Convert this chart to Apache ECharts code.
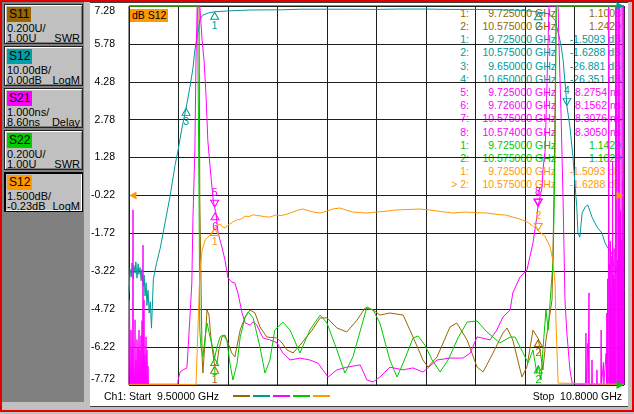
<!DOCTYPE html>
<html><head><meta charset="utf-8">
<script src="https://cdn.jsdelivr.net/npm/echarts@6/dist/echarts.min.js"></script>
<style>
html,body{margin:0;padding:0;}
body{width:634px;height:414px;position:relative;overflow:hidden;background:#c0c0c0;font-family:"Liberation Sans",Arial,sans-serif;font-size:11px;color:#000;}
.a{position:absolute;}
#frame{left:0;top:0;width:630px;height:408px;border:2px solid #e00000;z-index:5;pointer-events:none;}
#panel{left:2px;top:2px;width:82px;height:400px;background:#808080;}
#white{left:90px;top:2px;width:538px;height:403px;background:#fff;border-top:1px solid #404040;border-bottom:1px solid #404040;}
.box{position:absolute;left:4px;width:77px;height:38px;background:#c0c0c0;border:1px solid #202020;box-shadow:inset 1px 1px 0 #fff,inset -1px -1px 0 #808080;}
.box.sel{border:1px solid #000;box-shadow:inset 1px 1px 0 #000,inset -1px -1px 0 #fff;}
.chip{position:absolute;left:2px;top:2px;padding:0 2px;height:15px;line-height:15px;font-size:12px;color:#000;}
.l2{position:absolute;left:2px;top:17px;line-height:12px;font-size:11px;}
.l3{position:absolute;left:2px;top:27px;line-height:12px;font-size:11px;}
.r3{position:absolute;right:2px;top:27px;line-height:12px;font-size:11px;}
#chart{left:0;top:0;width:634px;height:414px;z-index:2;}
#table{left:0;top:0;width:634px;height:414px;z-index:1;font-size:10.5px;}
.row span{position:absolute;white-space:pre;line-height:13px;}
.bt{font-size:10.5px;line-height:13px;z-index:3;}
.dash{height:2px;width:17px;top:395px;z-index:3;}
#lbl{left:130px;top:9px;height:13px;line-height:13px;padding:0 2px;background:#ff9900;font-size:10.5px;z-index:3;}
</style></head>
<body>
<div id="panel" class="a"></div>
<div id="white" class="a"></div>
<div id="boxes"></div>
<div id="table" class="a"></div>
<div id="chart" class="a"></div>
<div id="lbl" class="a">dB S12</div>
<div class="a bt" style="left:104px;top:390px;">Ch1: Start&nbsp; 9.50000 GHz</div>
<div class="a bt" style="right:12px;top:390px;">Stop&nbsp; 10.8000 GHz</div>
<div id="legend"></div>
<div id="frame" class="a"></div>
<script>
// ---------- data ----------
const startGHz = 9.5, stopGHz = 10.8;
const yTickLabels = ["-7.72","-6.22","-4.72","-3.22","-1.72","-0.22","1.28","2.78","4.28","5.78","7.28"];

// S11 SWR (brown)
const s11Trace = [[9.500,3.0],[9.684,3.0],[9.686,1.976],[9.692,1.148],[9.694,1.063],[9.700,1.237],[9.705,1.396],[9.710,1.37],[9.715,1.253],[9.721,1.158],[9.725,1.101],[9.731,1.116],[9.736,1.185],[9.744,1.253],[9.752,1.264],[9.760,1.222],[9.770,1.169],[9.778,1.148],[9.792,1.29],[9.805,1.359],[9.818,1.396],[9.831,1.38],[9.844,1.306],[9.862,1.253],[9.889,1.248],[9.902,1.222],[9.915,1.185],[9.931,1.169],[9.954,1.222],[9.981,1.29],[10.002,1.354],[10.020,1.354],[10.046,1.301],[10.072,1.28],[10.099,1.343],[10.120,1.406],[10.141,1.396],[10.159,1.369],[10.185,1.38],[10.220,1.369],[10.246,1.253],[10.272,1.132],[10.285,1.095],[10.309,1.148],[10.343,1.306],[10.361,1.327],[10.388,1.237],[10.414,1.095],[10.430,1.069],[10.456,1.169],[10.482,1.274],[10.493,1.301],[10.508,1.237],[10.532,1.042],[10.545,1.095],[10.561,1.29],[10.575,1.243],[10.582,1.148],[10.587,1.079],[10.595,1.237],[10.603,1.343],[10.611,1.45],[10.616,1.98],[10.622,3.0],[10.800,3.0]];

// S12 LogM 10 dB/div (teal)
const s12Trace = [[9.500,-75.7],[9.503,-69.5],[9.506,-71.5],[9.508,-67.8],[9.511,-72.0],[9.513,-68.5],[9.516,-70.5],[9.518,-67.5],[9.521,-71.8],[9.524,-68.0],[9.526,-70.8],[9.529,-69.0],[9.532,-72.5],[9.534,-69.5],[9.537,-74.0],[9.540,-71.0],[9.542,-76.5],[9.545,-73.0],[9.547,-79.0],[9.550,-75.0],[9.553,-81.0],[9.556,-78.0],[9.559,-85.0],[9.561,-80.0],[9.564,-72.0],[9.567,-70.5],[9.572,-68.0],[9.582,-63.9],[9.595,-57.0],[9.608,-50.1],[9.621,-42.0],[9.629,-38.0],[9.639,-32.2],[9.650,-26.9],[9.660,-21.4],[9.668,-16.4],[9.673,-11.6],[9.681,-7.1],[9.686,-3.7],[9.694,-2.4],[9.708,-1.85],[9.725,-1.51],[9.76,-1.3],[9.82,-1.05],[9.90,-1.0],[9.95,-0.85],[10.02,-0.85],[10.08,-0.85],[10.15,-0.9],[10.21,-0.8],[10.28,-0.8],[10.34,-0.9],[10.41,-0.9],[10.47,-0.98],[10.53,-1.15],[10.56,-1.4],[10.575,-1.63],[10.595,-1.9],[10.606,-2.3],[10.619,-3.7],[10.627,-7.0],[10.634,-10.0],[10.640,-14.2],[10.648,-23.5],[10.650,-26.35],[10.658,-31.9],[10.666,-39.8],[10.671,-46.7],[10.676,-53.0],[10.679,-59.9],[10.684,-61.0],[10.690,-54.6],[10.698,-53.0],[10.705,-52.5],[10.716,-55.7],[10.729,-58.3],[10.742,-59.9],[10.750,-62.5],[10.758,-63.9],[10.768,-65.2],[10.776,-70.4],[10.784,-68.3],[10.789,-73.6],[10.795,-71.2],[10.800,-74.9]];

// S21 group delay ns (magenta)
const s21Trace = [[9.5000,3.62],[9.5013,5.84],[9.5026,4.34],[9.5039,3.62],[9.5053,5.05],[9.5066,3.62],[9.5079,4.6],[9.5092,3.62],[9.5105,8.22],[9.5118,3.62],[9.5131,4.0],[9.5145,3.62],[9.5158,5.32],[9.5171,3.62],[9.5184,4.26],[9.5197,3.62],[9.5210,4.8],[9.5223,3.62],[9.5236,4.6],[9.5250,3.62],[9.5263,5.05],[9.5276,3.62],[9.5289,4.52],[9.5302,3.62],[9.5315,4.9],[9.5328,3.62],[9.5341,5.3],[9.5355,3.62],[9.5368,7.29],[9.5381,3.62],[9.5394,5.84],[9.5407,3.62],[9.5420,4.4],[9.5433,3.62],[9.5446,4.87],[9.5460,3.62],[9.5473,4.52],[9.5486,3.62],[9.5499,4.1],[9.5512,3.62],[9.628,3.62],[9.629,3.73],[9.634,3.94],[9.642,4.0],[9.652,4.05],[9.655,4.52],[9.660,5.39],[9.665,6.29],[9.668,8.03],[9.673,9.80],[9.676,12.18],[9.679,13.6],[9.686,13.6],[9.692,12.7],[9.697,12.18],[9.702,11.30],[9.707,10.06],[9.713,9.35],[9.721,8.48],[9.725,8.28],[9.728,8.16],[9.734,7.61],[9.744,7.24],[9.752,6.90],[9.760,6.42],[9.770,6.32],[9.778,6.29],[9.786,6.03],[9.797,5.50],[9.805,5.24],[9.818,5.18],[9.826,5.26],[9.836,5.18],[9.844,5.0],[9.852,4.84],[9.870,4.79],[9.889,4.71],[9.904,4.44],[9.923,4.26],[9.949,4.31],[9.975,4.26],[9.996,4.18],[10.009,4.0],[10.023,3.81],[10.046,4.0],[10.072,4.07],[10.107,4.13],[10.125,3.73],[10.141,3.68],[10.159,3.81],[10.185,4.07],[10.220,4.0],[10.246,4.05],[10.272,3.94],[10.309,4.26],[10.343,4.31],[10.377,4.31],[10.396,4.44],[10.414,4.87],[10.448,4.79],[10.466,5.05],[10.482,5.39],[10.501,5.58],[10.508,6.03],[10.527,6.45],[10.545,6.63],[10.561,7.35],[10.571,8.03],[10.574,8.305],[10.575,8.31],[10.585,8.82],[10.587,9.27],[10.593,9.80],[10.598,11.65],[10.603,13.6],[10.627,13.6],[10.629,12.7],[10.635,10.6],[10.640,8.48],[10.645,5.84],[10.650,4.97],[10.658,4.0],[10.664,3.65],[10.684,3.62],[10.699,3.62],[10.700,4.97],[10.701,3.62],[10.704,3.62],[10.705,4.7],[10.706,3.62],[10.708,6.03],[10.709,3.62],[10.715,3.62],[10.716,4.26],[10.717,3.62],[10.728,3.62],[10.729,4.0],[10.730,3.62],[10.739,3.62],[10.740,5.05],[10.741,3.62],[10.745,3.62],[10.746,4.2],[10.747,3.62],[10.752,3.62],[10.753,4.44],[10.754,3.62],[10.755,5.5],[10.756,3.62],[10.757,6.4],[10.758,3.62],[10.759,5.8],[10.760,13.6],[10.761,3.62],[10.762,6.8],[10.763,3.62],[10.764,7.4],[10.765,3.62],[10.766,6.0],[10.767,3.62],[10.768,7.0],[10.769,3.62],[10.770,9.5],[10.771,3.62],[10.772,6.5],[10.773,3.62],[10.774,7.2],[10.775,3.62],[10.776,6.4],[10.777,3.62],[10.778,13.6],[10.779,3.62],[10.780,7.8],[10.781,13.6],[10.782,3.62],[10.783,6.9],[10.784,3.62],[10.785,13.6],[10.786,3.62],[10.787,7.6],[10.788,3.62],[10.789,13.6],[10.790,3.62],[10.791,8.2],[10.792,3.62],[10.793,7.43],[10.794,3.62],[10.795,13.6],[10.796,3.62],[10.797,9.0],[10.798,3.62],[10.799,13.6],[10.800,3.62]];

// S22 SWR (green)
const s22Trace = [[9.500,3.0],[9.680,3.0],[9.684,1.976],[9.686,1.29],[9.689,1.20],[9.694,1.148],[9.700,1.253],[9.705,1.327],[9.713,1.253],[9.721,1.185],[9.725,1.143],[9.731,1.20],[9.739,1.253],[9.747,1.264],[9.757,1.237],[9.765,1.116],[9.773,1.026],[9.784,1.116],[9.792,1.253],[9.805,1.359],[9.813,1.385],[9.826,1.354],[9.844,1.20],[9.857,1.063],[9.870,1.132],[9.883,1.29],[9.904,1.332],[9.923,1.29],[9.949,1.169],[9.975,1.29],[10.002,1.369],[10.020,1.327],[10.046,1.185],[10.067,1.063],[10.088,1.148],[10.125,1.412],[10.141,1.396],[10.159,1.327],[10.185,1.132],[10.204,1.042],[10.220,1.116],[10.246,1.248],[10.259,1.259],[10.277,1.211],[10.296,1.132],[10.317,1.069],[10.338,1.132],[10.364,1.248],[10.388,1.332],[10.414,1.338],[10.440,1.280],[10.474,1.222],[10.501,1.253],[10.514,1.253],[10.535,1.169],[10.548,1.116],[10.561,1.185],[10.571,1.063],[10.575,1.103],[10.582,1.026],[10.587,1.185],[10.595,1.396],[10.601,1.29],[10.608,1.5],[10.614,1.66],[10.619,2.24],[10.622,3.0],[10.800,3.0]];

// S12 LogM 1.5 dB/div (orange)
const s12bTrace = [[9.500,-7.70],[9.676,-7.70],[9.681,-5.55],[9.686,-3.29],[9.692,-2.38],[9.700,-1.99],[9.713,-1.79],[9.725,-1.51],[9.739,-1.35],[9.745,-1.45],[9.752,-1.51],[9.758,-1.42],[9.765,-1.35],[9.775,-1.25],[9.784,-1.19],[9.795,-1.15],[9.805,-1.04],[9.815,-1.06],[9.826,-0.99],[9.840,-1.02],[9.855,-1.06],[9.870,-1.08],[9.885,-1.0],[9.900,-1.02],[9.915,-0.96],[9.930,-0.88],[9.945,-0.8],[9.957,-0.76],[9.970,-0.82],[9.985,-0.88],[10.002,-0.92],[10.020,-0.84],[10.035,-0.76],[10.054,-0.72],[10.070,-0.8],[10.088,-0.88],[10.105,-0.9],[10.125,-0.92],[10.150,-0.88],[10.178,-0.84],[10.200,-0.8],[10.230,-0.78],[10.264,-0.76],[10.290,-0.8],[10.320,-0.86],[10.351,-0.92],[10.380,-0.88],[10.410,-0.9],[10.440,-0.92],[10.470,-0.98],[10.490,-1.0],[10.508,-1.08],[10.525,-1.15],[10.545,-1.27],[10.560,-1.42],[10.575,-1.63],[10.592,-1.83],[10.606,-2.26],[10.613,-2.78],[10.619,-3.69],[10.621,-5.04],[10.627,-7.65],[10.800,-7.70]];

// markers (table values)
const s11MarkerFreq = [9.725, 10.575];
const s11MarkerVal  = [1.1008, 1.2429];
const s12MarkerFreq = [9.725, 10.575, 9.65, 10.65];
const s12MarkerVal  = [-1.5093, -1.6288, -26.881, -26.351];
const s21MarkerFreq = [9.725, 9.726, 10.575, 10.574];
const s21MarkerVal  = [8.2754, 8.1562, 8.3076, 8.3050];
const s22MarkerFreq = [9.725, 10.575];
const s22MarkerVal  = [1.1429, 1.1029];
const s12bMarkerFreq = [9.725, 10.575];
const s12bMarkerVal  = [-1.5093, -1.6288];

// ---------- styling ----------
const C = {s11:'#996600', s12:'#009999', s21:'#ff00ff', s22:'#00c800', s12b:'#ff9900'};

const boxes = [
  {name:'S11', col:C.s11, l2:'0.200U/', l3:'1.00U', r3:'SWR'},
  {name:'S12', col:'#00a0a8', l2:'10.00dB/', l3:'0.00dB', r3:'LogM'},
  {name:'S21', col:C.s21, l2:'1.000ns/', l3:'8.60ns', r3:'Delay'},
  {name:'S22', col:'#00cc00', l2:'0.200U/', l3:'1.00U', r3:'SWR'},
  {name:'S12', col:C.s12b, l2:'1.500dB/', l3:'-0.23dB', r3:'LogM', sel:true}
];
const boxTops = [4,46,88,130,172];
let bh = '';
boxes.forEach((b,i)=>{
  bh += `<div class="box${b.sel?' sel':''}" style="top:${boxTops[i]}px"><div class="chip" style="background:${b.col}">${b.name}</div><div class="l2">${b.l2}</div><div class="l3">${b.l3}</div><div class="r3">${b.r3}</div></div>`;
});
document.getElementById('boxes').innerHTML = bh;

const dashCols = [C.s11, C.s12, C.s21, C.s22, C.s12b];
document.getElementById('legend').innerHTML = dashCols.map((c,i)=>`<div class="a dash" style="left:${233+i*20}px;background:${c}"></div>`).join('');

const tableRows = [];
function addRows(freqs, vals, nums, unit, col, activeIdx){
  freqs.forEach((f,i)=>{
    tableRows.push({num:(i===activeIdx?'> ':'')+nums[i]+':', f:f.toFixed(6)+' GHz', v:vals[i].toPrecision(5)+unit, col});
  });
}
addRows(s11MarkerFreq, s11MarkerVal, [1,2], '', C.s11, -1);
addRows(s12MarkerFreq, s12MarkerVal, [1,2,3,4], ' dB', C.s12, -1);
addRows(s21MarkerFreq, s21MarkerVal, [5,6,7,8], ' ns', C.s21, -1);
addRows(s22MarkerFreq, s22MarkerVal, [1,2], '', C.s22, -1);
addRows(s12bMarkerFreq, s12bMarkerVal, [1,2], ' dB', C.s12b, 1);
document.getElementById('table').innerHTML = tableRows.map((r,i)=>{
  const t = (6.8 + 13.2*i).toFixed(1);
  return `<div class="row" style="color:${r.col}"><span style="right:165px;top:${t}px">${r.num}</span><span style="right:78px;top:${t}px">${r.f}</span><span style="right:13px;top:${t}px">${r.v}</span></div>`;
}).join('');

// ---------- chart ----------
function markerPoints(freqs, vals, nums, col, aboveIdx){
  return freqs.map((f,i)=>{
    const above = aboveIdx.indexOf(i) >= 0;
    return {
      coord:[f, vals[i]], value:nums[i],
      symbol:'triangle', symbolSize:[8,7],
      symbolRotate: above ? 180 : 0,
      symbolOffset: above ? [0,-4] : [0,4],
      itemStyle:{color:'rgba(0,0,0,0)', borderColor:col, borderWidth:1},
      label:{show:true, formatter:String(nums[i]), position: above?'top':'bottom', distance:1, color:col, fontSize:10.5, fontFamily:'Liberation Sans'}
    };
  });
}
function refTri(x, y, col, left){
  return {coord:[x,y], symbol:'triangle', symbolSize:[8,7], symbolRotate: left ? 90 : -90,
    symbolOffset: left ? [4,0] : [-4,0], itemStyle:{color:col, borderWidth:0}, label:{show:false}};
}
function lineSeries(name, data, yIdx, col, marks){
  return {name, type:'line', data, xAxisIndex:0, yAxisIndex:yIdx, showSymbol:false, symbol:'none',
    clip:false, lineStyle:{color:col, width:1}, itemStyle:{color:col}, animation:false, silent:true,
    markPoint:{animation:false, silent:true, data:marks}};
}
const gridCol = '#1e1e1e';
const option = {
  animation:false,
  backgroundColor:'transparent',
  textStyle:{fontFamily:'Liberation Sans'},
  grid:{left:129, top:6, width:495, height:379, show:true, borderColor:gridCol, borderWidth:1, backgroundColor:'transparent', containLabel:false, outerBoundsMode:'none'},
  xAxis:[
    {type:'value', min:startGHz, max:stopGHz, show:false},
    {type:'value', min:0, max:10, interval:1, axisLine:{show:false}, axisTick:{show:false}, axisLabel:{show:false},
     splitLine:{show:true, lineStyle:{color:gridCol, width:1}}}
  ],
  yAxis:[
    {type:'value', min:0, max:10, interval:1, axisLine:{show:false}, axisTick:{show:false},
     axisLabel:{formatter:(v)=>yTickLabels[Math.round(v)], color:'#000', fontSize:10.5, margin:14, fontFamily:'Liberation Sans',
       verticalAlignMaxLabel:'top', verticalAlignMinLabel:'bottom'},
     splitLine:{show:true, lineStyle:{color:gridCol, width:1}}},
    {type:'value', min:1, max:3, show:false},
    {type:'value', min:-100, max:0, show:false},
    {type:'value', min:3.6, max:13.6, show:false},
    {type:'value', min:-7.725, max:7.275, show:false}
  ],
  series:[
    lineSeries('S11', s11Trace, 1, C.s11, markerPoints(s11MarkerFreq, s11MarkerVal, [1,2], C.s11, [])),
    lineSeries('S12', s12Trace, 2, C.s12, markerPoints(s12MarkerFreq, s12MarkerVal, [1,2,3,4], C.s12, [3]).concat([refTri(stopGHz, 0, C.s12, false)])),
    lineSeries('S21', s21Trace, 3, C.s21, markerPoints(s21MarkerFreq, s21MarkerVal, [5,6,7,8], C.s21, [0,2,3])),
    lineSeries('S22', s22Trace, 1, C.s22, markerPoints(s22MarkerFreq, s22MarkerVal, [1,2], C.s22, []).concat([refTri(stopGHz, 1, C.s22, false)])),
    lineSeries('S12b', s12bTrace, 4, C.s12b, markerPoints(s12bMarkerFreq, s12bMarkerVal, [1,2], C.s12b, [1]).concat([refTri(startGHz, -0.225, C.s12b, true), refTri(stopGHz, -0.225, C.s12b, false)]))
  ]
};
const chart = echarts.init(document.getElementById('chart'), null, {renderer:'canvas'});
chart.setOption(option);
</script>
</body></html>
